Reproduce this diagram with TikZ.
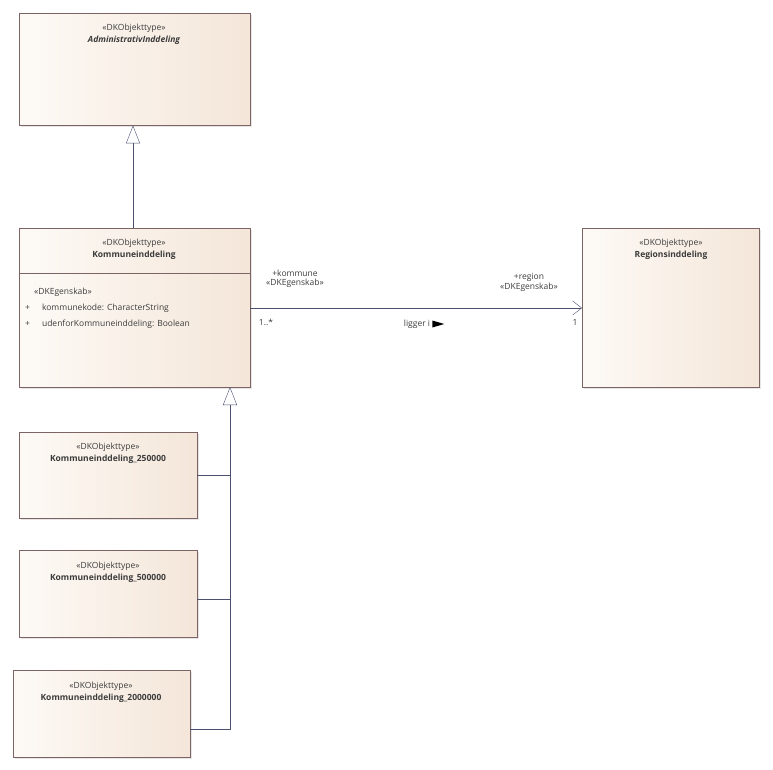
\documentclass[tikz,border=0pt]{standalone}
\usepackage{fontspec}
\setmainfont{Open Sans}
\usetikzlibrary{arrows.meta,positioning,shadows}
\definecolor{BoxA}{RGB}{253,250,246}
\definecolor{BoxB}{RGB}{244,230,217}
\definecolor{Edg}{RGB}{125,100,100}
\definecolor{Lin}{RGB}{75,80,110}
\definecolor{Txt}{RGB}{60,60,60}
\tikzset{
  Class/.style={draw=Edg,anchor=north west,inner sep=0pt,
    left color=BoxA,right color=BoxB,
    drop shadow={opacity=.2,shadow xshift=2pt,shadow yshift=-2pt}},
  Lbl/.style={font=\fontsize{8.5}{10}\selectfont,text=Txt,inner sep=1pt},
  Name/.style={Lbl,font=\fontsize{8.5}{10}\selectfont\bfseries},
  Conn/.style={draw=Lin,thin},
  Gen/.style={Conn,-{Triangle[open,width=14pt,length=18pt]}},
}
\begin{document}
\begin{tikzpicture}[x=1pt,y=-1pt]
\useasboundingbox (0,0) rectangle (773,770);
% classes
\node[Class,minimum width=231pt,minimum height=112pt](admin)at(19,13){};
\node[Class,minimum width=231pt,minimum height=159pt](komm)at(19,228){};
\node[Class,minimum width=177pt,minimum height=159pt](reg)at(582,228){};
\node[Class,minimum width=178pt,minimum height=86pt](k250)at(19,432){};
\node[Class,minimum width=178pt,minimum height=87pt](k500)at(19,550){};
\node[Class,minimum width=177pt,minimum height=87pt](k2000)at(13,670){};
\draw[draw=Edg](19,273)--(250,273);
%
\node[Lbl](st1)at(134,28){«DKObjekttype»};
\node[Name,font=\fontsize{8.5}{10}\selectfont\bfseries\itshape,below=1pt of st1]{AdministrativInddeling};
\node[Lbl](st2)at(134,243){«DKObjekttype»};
\node[Name,below=1pt of st2]{Kommuneinddeling};
\node[Lbl,anchor=west](att)at(33,292){«DKEgenskab»};
\node[Lbl,anchor=west](a1)at(24,308){+\hspace{12pt}kommunekode: CharacterString};
\node[Lbl,anchor=west](a2)at(24,324){+\hspace{12pt}udenforKommuneinddeling: Boolean};
\node[Lbl](st3)at(671,243){«DKObjekttype»};
\node[Name,below=1pt of st3]{Regionsinddeling};
\node[Lbl](st4)at(108,447){«DKObjekttype»};
\node[Name,below=1pt of st4]{Kommuneinddeling\_250000};
\node[Lbl](st5)at(108,566){«DKObjekttype»};
\node[Name,below=1pt of st5]{Kommuneinddeling\_500000};
\node[Lbl](st6)at(101,686){«DKObjekttype»};
\node[Name,below=1pt of st6]{Kommuneinddeling\_2000000};
% generalisations
\draw[Gen](komm.north -| 133,0)--(admin.south -| 133,0);
\coordinate(g)at(230,387);
\draw[Gen](k2000.east |- 0,729)-|(g);
\draw[Conn](k250.east |- 0,475)--(230,475);
\draw[Conn](k500.east |- 0,599)--(230,599);
% association
\draw[Conn,-{Straight Barb[length=9pt,width=14pt]}](komm.east |- 0,308)--(reg.west |- 0,308);
\node[Lbl](r1)at(295,273){+kommune};
\node[Lbl,below=0pt of r1]{«DKEgenskab»};
\node[Lbl]at(266,322){1..*};
\node[Lbl](r2)at(529,277){+region};
\node[Lbl,below=0pt of r2]{«DKEgenskab»};
\node[Lbl]at(575,322){1};
\node[Lbl](lg)at(417,324){ligger i};
\fill[black](lg.east)++(1pt,-3.5pt)--++(12pt,3.5pt)--++(-12pt,3.5pt)--cycle;
\end{tikzpicture}
\end{document}
